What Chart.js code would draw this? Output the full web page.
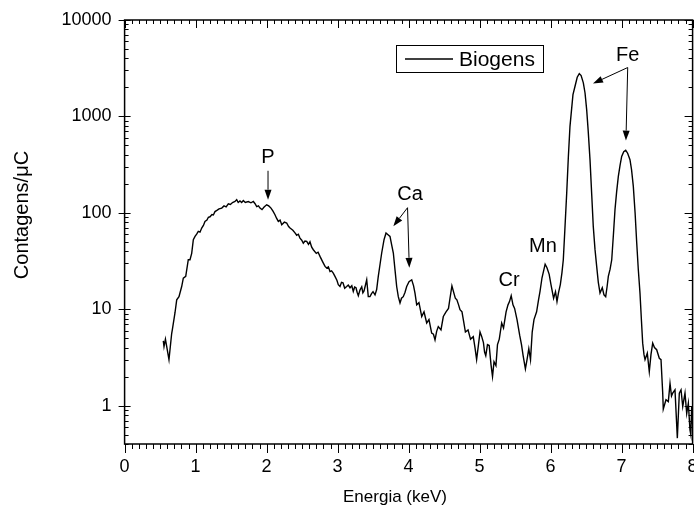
<!DOCTYPE html>
<html lang="pt">
<head>
    <meta charset="UTF-8">
    <title>Espectro - Biogens</title>
    <script src="https://cdn.jsdelivr.net/npm/chart.js"></script>
    <style>
        body {
            margin: 0;
            background-color: #ffffff;
        }

        #wrap {
            width: 694px;
            height: 512px;
        }
    </style>
</head>
<body>

    <div id="wrap">
        <canvas id="espectro" width="694" height="512"></canvas>
    </div>

    <script>
        const energia = [
            0.545, 0.555, 0.575, 0.625, 0.663, 0.672, 0.710, 0.734, 0.766, 0.804,
            0.827, 0.861, 0.897, 0.921, 0.945, 0.968, 0.992, 1.015, 1.038, 1.062,
            1.086, 1.110, 1.132, 1.160, 1.180, 1.203, 1.230, 1.250, 1.273, 1.300,
            1.330, 1.368, 1.400, 1.430, 1.461, 1.490, 1.520, 1.555, 1.579, 1.600,
            1.625, 1.649, 1.672, 1.700, 1.742, 1.780, 1.813, 1.835, 1.861, 1.885,
            1.907, 1.935, 1.965, 2.001, 2.030, 2.062, 2.090, 2.118, 2.140, 2.165,
            2.190, 2.213, 2.250, 2.283, 2.310, 2.330, 2.370, 2.400, 2.424, 2.447,
            2.470, 2.495, 2.517, 2.540, 2.565, 2.590, 2.611, 2.635, 2.658, 2.700,
            2.725, 2.752, 2.790, 2.823, 2.847, 2.870, 2.893, 2.915, 2.939, 2.963,
            2.990, 3.010, 3.034, 3.055, 3.076, 3.100, 3.128, 3.150, 3.175, 3.200,
            3.221, 3.240, 3.259, 3.275, 3.292, 3.315, 3.340, 3.356, 3.372, 3.390,
            3.410, 3.432, 3.456, 3.478, 3.499, 3.527, 3.550, 3.573, 3.600, 3.621,
            3.654, 3.682, 3.710, 3.738, 3.760, 3.785, 3.810, 3.832, 3.855, 3.879,
            3.900, 3.925, 3.950, 3.973, 4.006, 4.044, 4.070, 4.090, 4.114, 4.146,
            4.185, 4.217, 4.255, 4.287, 4.325, 4.350, 4.372, 4.395, 4.418, 4.456,
            4.489, 4.527, 4.562, 4.583, 4.610, 4.632, 4.658, 4.680, 4.704, 4.724,
            4.752, 4.775, 4.800, 4.837, 4.872, 4.911, 4.935, 4.958, 4.984, 5.006,
            5.030, 5.054, 5.070, 5.087, 5.111, 5.135, 5.161, 5.182, 5.203, 5.230,
            5.252, 5.277, 5.311, 5.337, 5.373, 5.400, 5.421, 5.445, 5.470, 5.493,
            5.527, 5.565, 5.590, 5.613, 5.645, 5.668, 5.693, 5.717, 5.741, 5.766,
            5.803, 5.830, 5.851, 5.879, 5.923, 5.949, 5.980, 6.006, 6.042, 6.069,
            6.090, 6.111, 6.137, 6.160, 6.179, 6.200, 6.227, 6.250, 6.273, 6.315,
            6.344, 6.375, 6.404, 6.430, 6.461, 6.485, 6.508, 6.530, 6.555, 6.580,
            6.601, 6.625, 6.649, 6.672, 6.696, 6.728, 6.752, 6.776, 6.795, 6.813,
            6.838, 6.861, 6.885, 6.907, 6.930, 6.954, 6.978, 7.001, 7.030, 7.058,
            7.085, 7.118, 7.140, 7.165, 7.190, 7.213, 7.235, 7.259, 7.280, 7.297,
            7.315, 7.330, 7.362, 7.390, 7.414, 7.438, 7.463, 7.494, 7.531, 7.555,
            7.579, 7.587, 7.625, 7.658, 7.682, 7.703, 7.720, 7.752, 7.785, 7.813,
            7.837, 7.861, 7.893, 7.917, 7.940, 7.963, 7.975, 7.987, 7.995
        ];

        const contagens = [
            4.7, 4.1, 4.9, 3.0, 5.6, 6.1, 9.2, 12.5, 13.5, 17.2,
            21.0, 21.9, 32.6, 32.6, 38, 52.6, 56.9, 60, 64.1, 63,
            69.5, 74, 81.4, 84, 90, 91, 96, 95, 103, 106,
            110, 112, 118, 115, 124, 122, 128, 131, 137, 128,
            133, 128, 134, 128, 131, 127, 131, 125, 116, 118,
            112, 108, 115, 121, 118, 112, 104, 95.6, 88, 81.4,
            84, 75.4, 80, 78.4, 72, 69.5, 66, 62, 58.5, 60,
            54.7, 52, 48.5, 51, 50.5, 47, 50.1, 44, 41.4, 38,
            39, 35.3, 31, 27.8, 26.7, 27.5, 24.6, 25, 23.7, 21.9,
            20, 18, 17.2, 19, 18.8, 16.5, 17.2, 17.8, 16.7, 17.5,
            15.3, 17, 16.7, 15, 13.8, 15.8, 17.1, 14.8, 15.5, 17.5,
            20.2, 13.5, 13.5, 14.5, 15.2, 14.1, 16, 21.9, 30, 38.3,
            52.6, 61.7, 59.3, 56.9, 47, 38.3, 25, 17.2, 13.5, 11.6,
            13, 13.5, 15, 17.2, 19.3, 20.2, 17.5, 14.7, 11.1, 11.7,
            8.4, 9.4, 7.2, 7.8, 5.65, 5.5, 4.8, 5.9, 6.6, 6.1,
            8.4, 9.4, 10.2, 13.0, 17.5, 15.2, 13.0, 12.5, 11.1, 9.9,
            9.4, 7.5, 5.8, 6.1, 4.9, 5.2, 4.0, 3.0, 4.3, 5.8,
            5.2, 4.5, 3.6, 3.3, 4.3, 4.2, 2.65, 2.0, 2.85, 2.6,
            4.3, 4.9, 7.2, 6.4, 9.4, 11.1, 12.0, 13.8, 11.1, 10.2,
            7.8, 5.35, 4.3, 3.3, 2.4, 3.0, 3.9, 3.0, 5.8, 7.8,
            9.4, 12.5, 15.3, 21.2, 29.3, 26.9, 23.0, 17.9, 13.0, 15.2,
            12.0, 14.8, 18.0, 24, 32.6, 65, 161, 380, 789, 1684,
            2055, 2550, 2780, 2650, 2228, 1750, 1177, 700, 356, 150,
            72.3, 42, 27.8, 19, 14.7, 16.7, 14.1, 13.5, 17, 21.9,
            26, 32.6, 60, 108, 165, 239, 310, 385, 430, 445,
            415, 356, 280, 188, 100, 48.6, 26, 14.7, 7.5, 4.45,
            3.4, 3.0, 3.5, 2.25, 3.4, 4.45, 4.0, 3.8, 3.1, 3.0,
            1.35, 0.92, 1.15, 1.1, 1.7, 1.26, 1.35, 1.46, 0.46, 1.35,
            1.46, 0.98, 1.35, 0.83, 1.06, 0.56, 0.5, 0.98, 0.65
        ];

        const serieNome = 'Biogens';
        const xTicks = [0, 1, 2, 3, 4, 5, 6, 7, 8];
        const yTicks = [1, 10, 100, 1000, 10000];
        const tituloX = 'Energia (keV)';
        const tituloY = 'Contagens/\u03BCC';

        // Rotulos dos elementos (posicao em coordenadas do grafico)
        const elementos = ['P', 'Ca', 'Cr', 'Mn', 'Fe'];
        const elementoE = [2.02, 4.02, 5.414, 5.893, 7.086];
        const elementoV = [373, 154, 19.7, 44.5, 4285];

        // Setas: [energia inicio, valor inicio, energia ponta, valor ponta]
        const setas = [
            [2.02, 273, 2.02, 137],
            [3.985, 113, 3.785, 72.6],
            [3.985, 113, 4.01, 26.9],
            [7.086, 3214, 6.597, 2193],
            [7.086, 3214, 7.061, 561]
        ];

        const fonte = 'Arial, "Liberation Sans", sans-serif';

        function desenhaSeta(ctx, x0, y0, x1, y1) {
            const ang = Math.atan2(y1 - y0, x1 - x0);
            const L = 10, W = 3.5;
            const bx = x1 - L * Math.cos(ang), by = y1 - L * Math.sin(ang);
            ctx.beginPath();
            ctx.moveTo(x0, y0);
            ctx.lineTo(bx, by);
            ctx.stroke();
            ctx.beginPath();
            ctx.moveTo(x1, y1);
            ctx.lineTo(bx + W * Math.sin(ang), by - W * Math.cos(ang));
            ctx.lineTo(bx - W * Math.sin(ang), by + W * Math.cos(ang));
            ctx.closePath();
            ctx.fill();
        }

        const molduraPlugin = {
            id: 'moldura',
            afterDraw(chart) {
                const ctx = chart.ctx;
                const a = chart.chartArea;
                const x = chart.scales.x, y = chart.scales.y;
                ctx.save();
                ctx.strokeStyle = '#000';
                ctx.fillStyle = '#000';

                // moldura
                ctx.lineWidth = 1.5;
                ctx.strokeRect(a.left, a.top, a.right - a.left, a.bottom - a.top);

                // marcas do eixo x (baixo para fora, topo para dentro)
                ctx.lineWidth = 1;
                ctx.beginPath();
                for (let i = 0; i <= 80; i++) {
                    const px = Math.round(x.getPixelForValue(i / 10)) + 0.5;
                    const major = i % 10 === 0;
                    ctx.moveTo(px, a.bottom);
                    ctx.lineTo(px, a.bottom + (major ? 9 : 5));
                    ctx.moveTo(px, a.top);
                    ctx.lineTo(px, a.top + (major ? 8 : 4));
                }
                // marcas do eixo y (log)
                for (let d = -1; d <= 4; d++) {
                    for (let k = 1; k <= 9; k++) {
                        const v = k * Math.pow(10, d);
                        if (v < y.min || v > y.max * 1.0001) continue;
                        const py = Math.round(y.getPixelForValue(v)) + 0.5;
                        if (k === 1) {
                            ctx.moveTo(a.left - 6, py);
                            ctx.lineTo(a.left + 6, py);
                            ctx.moveTo(a.right, py);
                            ctx.lineTo(a.right - 8, py);
                        } else {
                            ctx.moveTo(a.left, py);
                            ctx.lineTo(a.left + 4, py);
                            ctx.moveTo(a.right, py);
                            ctx.lineTo(a.right - 4, py);
                        }
                    }
                }
                ctx.stroke();

                // titulos dos eixos
                ctx.textAlign = 'center';
                ctx.textBaseline = 'middle';
                ctx.font = '17px ' + fonte;
                ctx.fillText(tituloX, 395, 497);
                ctx.save();
                ctx.font = '20px ' + fonte;
                ctx.translate(22, 215);
                ctx.rotate(-Math.PI / 2);
                ctx.fillText(tituloY, 0, 0);
                ctx.restore();

                // legenda
                ctx.lineWidth = 1;
                ctx.strokeRect(396.5, 45.5, 147, 27);
                ctx.lineWidth = 1.3;
                ctx.beginPath();
                ctx.moveTo(405, 59);
                ctx.lineTo(453, 59);
                ctx.stroke();
                ctx.font = '21px ' + fonte;
                ctx.textAlign = 'left';
                ctx.fillText(serieNome, 459, 60);

                // rotulos dos elementos
                ctx.font = '20px ' + fonte;
                ctx.textAlign = 'center';
                elementos.forEach((nome, i) => {
                    ctx.fillText(nome, x.getPixelForValue(elementoE[i]), y.getPixelForValue(elementoV[i]));
                });

                // setas
                ctx.lineWidth = 1;
                setas.forEach(s => {
                    desenhaSeta(ctx,
                        x.getPixelForValue(s[0]), y.getPixelForValue(s[1]),
                        x.getPixelForValue(s[2]), y.getPixelForValue(s[3]));
                });
                ctx.restore();
            }
        };

        const pontos = energia.map((e, i) => ({ x: e, y: contagens[i] }));

        const ctx = document.getElementById('espectro').getContext('2d');
        const chart = new Chart(ctx, {
            type: 'line',
            data: {
                datasets: [{
                    label: serieNome,
                    data: pontos,
                    borderColor: '#000000',
                    borderWidth: 1.4,
                    pointRadius: 0,
                    tension: 0,
                    fill: false
                }]
            },
            options: {
                responsive: false,
                animation: false,
                devicePixelRatio: 1,
                layout: {
                    padding: { left: 0, top: 20, right: 1.4, bottom: 0 }
                },
                plugins: {
                    legend: { display: false },
                    tooltip: { enabled: false }
                },
                scales: {
                    x: {
                        type: 'linear',
                        min: 0,
                        max: 8,
                        grid: { display: false, drawTicks: false },
                        border: { display: false },
                        afterBuildTicks: (scale) => {
                            scale.ticks = xTicks.map(v => ({ value: v }));
                        },
                        afterFit: (scale) => {
                            scale.height = 68;
                            scale.paddingLeft = 0;
                            scale.paddingRight = 0;
                        },
                        ticks: {
                            color: '#000',
                            font: { family: fonte, size: 18 },
                            padding: 12,
                            maxRotation: 0,
                            autoSkip: false
                        }
                    },
                    y: {
                        type: 'logarithmic',
                        min: 0.4,
                        max: 10000,
                        grid: { display: false, drawTicks: false },
                        border: { display: false },
                        afterBuildTicks: (scale) => {
                            scale.ticks = yTicks.map(v => ({ value: v }));
                        },
                        afterFit: (scale) => {
                            scale.width = 124.6;
                            scale.paddingTop = 0;
                            scale.paddingBottom = 0;
                        },
                        ticks: {
                            color: '#000',
                            font: { family: fonte, size: 18 },
                            padding: 13,
                            callback: (v) => String(v)
                        }
                    }
                }
            },
            plugins: [molduraPlugin]
        });
    </script>

</body>
</html>
